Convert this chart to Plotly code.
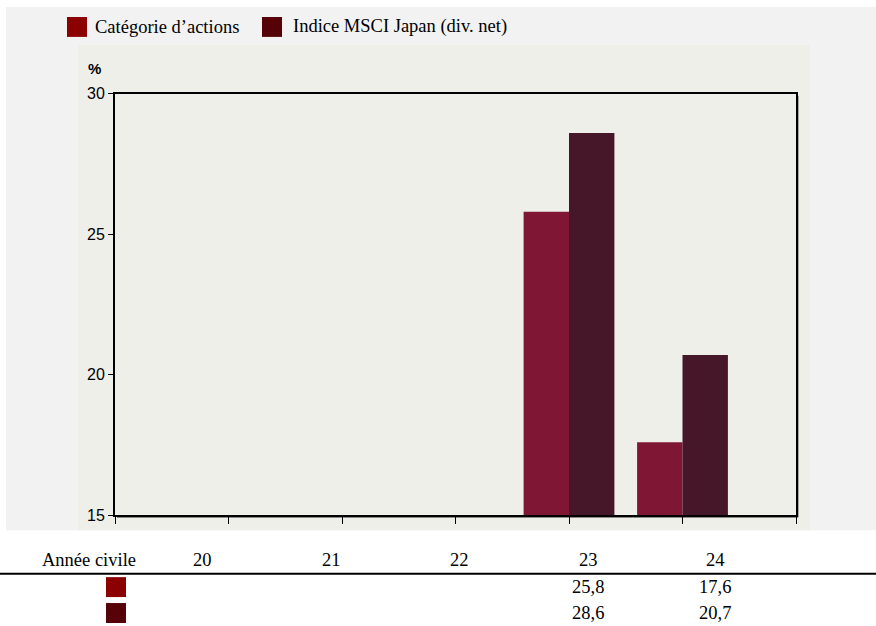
import plotly.graph_objects as go

# Calendar years and annual performance (%)
years = ["20", "21", "22", "23", "24"]
fund = [None, None, None, 25.8, 17.6]
index_msci = [None, None, None, 28.6, 20.7]
series_names = ["Catégorie d\u2019actions", "Indice MSCI Japan (div. net)"]
y_ticks = [15, 20, 25, 30]

W, H = 876, 626
bar_colors = ["#7f1734", "#461728"]
key_colors = ["#8b0000", "#560008"]
serif = "Liberation Serif, Times New Roman, serif"
sans = "Liberation Sans, Arial, sans-serif"

# vertical placement helpers (page rows -> paper fractions)
TOP_OFF, EFF_H = 7.0, 611.0


def px(x):
    return x / W


def py(y):
    return 1 - (y - TOP_OFF) / EFF_H


xs = list(range(len(years)))

fig = go.Figure()
for name, vals, col in zip(series_names, [fund, index_msci], bar_colors):
    fig.add_trace(go.Bar(x=xs, y=vals, name=name, marker=dict(color=col, line=dict(width=0)),
                         showlegend=False))

shapes = [
    # outer and inner panels
    dict(type="rect", xref="paper", yref="paper", x0=px(6), x1=px(876), y0=py(531), y1=py(6),
         fillcolor="#f2f2f2", line=dict(width=0), layer="below"),
    dict(type="rect", xref="paper", yref="paper", x0=px(78), x1=px(810), y0=py(531), y1=py(44),
         fillcolor="#efefea", line=dict(width=0), layer="below"),
    # soft shadow along the right and bottom of the plot frame
    dict(type="line", xref="paper", yref="paper", x0=px(798), x1=px(798), y0=py(518), y1=py(95),
         line=dict(width=1.5, color="#8a8a8a"), layer="below"),
    dict(type="line", xref="paper", yref="paper", x0=px(117), x1=px(798), y0=py(518), y1=py(518),
         line=dict(width=1.5, color="#8a8a8a"), layer="below"),
    # table rule
    dict(type="line", xref="paper", yref="paper", x0=0, x1=1, y0=py(574.5), y1=py(574.5),
         line=dict(width=2, color="black")),
]


def label(text, x, y, size=18.5, family=serif, xanchor="center"):
    return dict(text=text, x=px(x), y=py(y), xref="paper", yref="paper", showarrow=False,
                xanchor=xanchor, yanchor="middle", font=dict(family=family, size=size, color="black"))


annotations = [label("<b>%</b>", 94, 68, size=15, family=sans)]

# legend keys
legend_pos = [(67, 93), (262, 291)]
for (sx, tx), name, col in zip(legend_pos, series_names, key_colors):
    shapes.append(dict(type="rect", xref="paper", yref="paper", x0=px(sx), x1=px(sx + 20),
                       y0=py(36), y1=py(16), fillcolor=col, line=dict(width=0)))
    annotations.append(label(name, tx, 26, xanchor="left"))

# data table beneath the chart
col_x = [202, 331, 459, 588, 715]
annotations.append(label("Année civile", 89, 561))
for cx, yr in zip(col_x, years):
    annotations.append(label(yr, cx, 561))
row_y = [588, 614]
for ry, vals, col in zip(row_y, [fund, index_msci], key_colors):
    shapes.append(dict(type="rect", xref="paper", yref="paper", x0=px(106), x1=px(126),
                       y0=py(ry + 10), y1=py(ry - 10), fillcolor=col, line=dict(width=0)))
    for cx, v in zip(col_x, vals):
        if v is None:
            continue
        annotations.append(label(f"{v:.1f}".replace(".", ","), cx, ry))

fig.update_layout(
    width=W, height=H,
    autosize=False,
    margin=dict(l=0, r=0, t=0, b=0, pad=0),
    paper_bgcolor="white",
    plot_bgcolor="#efefea",
    barmode="group",
    bargap=0.2,
    bargroupgap=0,
    shapes=shapes,
    annotations=annotations,
    xaxis=dict(domain=[px(115), px(796)], range=[-1, 5], tickmode="array",
               tickvals=list(range(-1, 6)), showticklabels=False, ticks="outside",
               ticklen=7, tickcolor="black", tickwidth=1, showgrid=False, zeroline=False,
               showline=True, linecolor="black", linewidth=2, mirror=True),
    yaxis=dict(domain=[py(516), py(93)], range=[15, 30], tickvals=y_ticks,
               ticks="outside", ticklen=5, tickcolor="black", tickwidth=1,
               showgrid=False, zeroline=False, showline=True, linecolor="black",
               linewidth=2, mirror=True,
               tickfont=dict(family=sans, size=16, color="black")),
)

fig.write_html("out.html", config={"responsive": False})
